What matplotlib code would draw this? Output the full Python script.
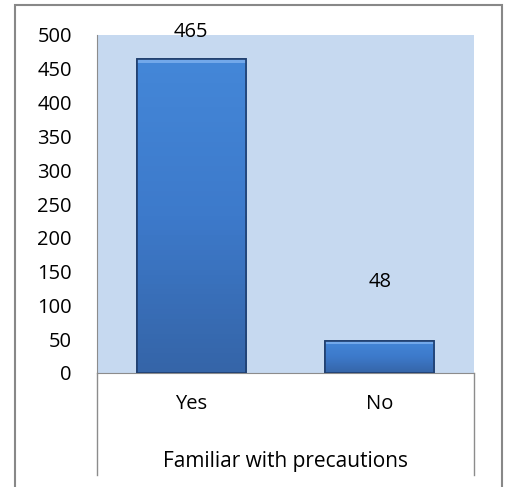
import matplotlib
matplotlib.use("Agg")
import numpy as np
import matplotlib.pyplot as plt
from matplotlib.patches import Rectangle
from matplotlib.colors import LinearSegmentedColormap

categories = ["Yes", "No"]
counts = [465, 48]
yticks = [0, 50, 100, 150, 200, 250, 300, 350, 400, 450, 500]
axis_title = "Familiar with precautions"

plt.rcParams['font.family'] = ['Open Sans', 'DejaVu Sans']
fs = 14.5

fig = plt.figure(figsize=(5.06, 4.87), dpi=100)
ax = fig.add_axes([97/506, 1 - 373/487, 377/506, 338/487])
ax.set_facecolor('#C6D9F0')

bars = ax.bar(range(len(categories)), counts, width=0.58,
              color='#3B78C6', edgecolor='#1F3E6E', linewidth=1.2, zorder=2)

# vertical gradient inside bars, lighter bevel at top
cmap = LinearSegmentedColormap.from_list('bev', ['#3565A8', '#3D7ACB', '#4487D8'])
grad = np.linspace(0, 1, 64).reshape(-1, 1)
for b in bars:
    x0, w, hgt = b.get_x(), b.get_width(), b.get_height()
    im = ax.imshow(grad, cmap=cmap, origin='lower', aspect='auto',
                   extent=(x0, x0 + w, 0, hgt), zorder=2.5)
    im.set_clip_path(b)
    h = min(hgt * 0.12, 6)
    ax.add_patch(Rectangle((x0, hgt - h), w, h,
                           facecolor='#72A8EA', edgecolor='none', zorder=3))
    ax.add_patch(Rectangle((x0, 0), w, hgt, facecolor='none',
                           edgecolor='#1F3E6E', lw=1.2, zorder=4))

offsets = [19, 42]
for i, v in enumerate(counts):
    ax.annotate(str(v), (i, v), xytext=(0, offsets[i]), textcoords='offset points',
                ha='center', va='center', fontsize=fs)

ax.set_xlim(-0.5, 1.5)
ax.set_ylim(0, 500)
ax.set_yticks(yticks)
ax.set_xticks(range(len(categories)))
ax.set_xticklabels(categories)
ax.tick_params(axis='both', length=0, labelsize=fs)
ax.tick_params(axis='y', pad=18)
ax.tick_params(axis='x', pad=15)
ax.set_xlabel(axis_title, fontsize=15, labelpad=27)

for s in ['top', 'right']:
    ax.spines[s].set_visible(False)
ax.spines['left'].set_color('#8C8C8C')
ax.spines['bottom'].set_color('#8C8C8C')

# category area lines
for xx in [0, 1]:
    ax.plot([xx, xx], [0, -0.302], transform=ax.transAxes, color='#8C8C8C',
            lw=1, clip_on=False)

# outer chart border
fig.add_artist(Rectangle((15/506, -0.05), 487/506, 1 - 5/487 + 0.05,
                         transform=fig.transFigure, fill=False,
                         edgecolor='#888888', lw=1.5))

fig.savefig("out.png", dpi=100)
